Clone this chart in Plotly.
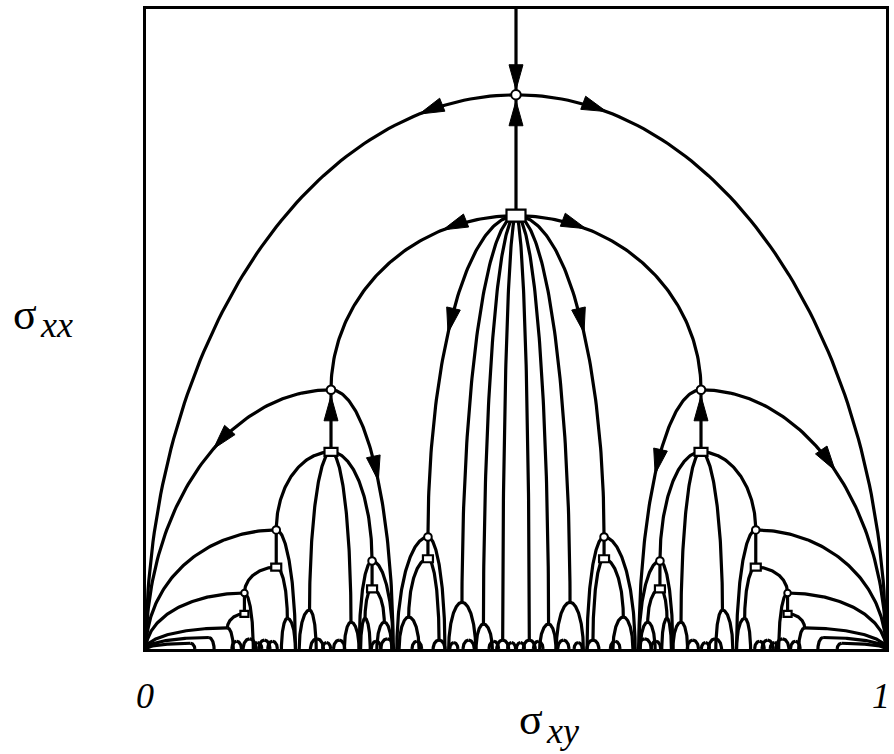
import numpy as np
import plotly.graph_objects as go

# Flow diagram in the (sigma_xy, sigma_xx) plane.
# Left half of the fixed-point tree (sigma_xy <= 1/2); the right half is its mirror image.
# Each unit: a saddle (circle) whose two flow lines run down to attractors on the
# sigma_xy axis, an optional box below it, and a parent whose box feeds the saddle.
unit_x      = [0.500, 0.250, 0.381, 0.427, 0.456, 0.482, 0.176, 0.221, 0.277, 0.3055,
               0.133, 0.191, 0.110, 0.296, 0.322, 0.355, 0.396, 0.085, 0.060]
unit_circle = [0.866, 0.405, 0.175, 0.073, 0.039, 0.014, 0.186, 0.061, 0.042, 0.1375,
               0.0875, 0.048, 0.033, 0.048, 0.042, 0.050, 0.014, 0.018, 0.009]
unit_box    = [0.677, 0.308, 0.141, None, None, None, 0.128, None, None, 0.094,
               0.055, None, None, None, None, None, None, None, None]
unit_left   = [0.000, 0.000, 0.339, 0.409, 0.446, 0.474, 0.000, 0.207, 0.268, 0.288,
               0.000, 0.183, 0.000, 0.290, 0.312, 0.342, 0.388, 0.000, 0.000]
unit_right  = [1.000, 0.334, 0.404, 0.4455, 0.468, 0.490, 0.202, 0.230, 0.288, 0.334,
               0.145, 0.202, 0.118, 0.303, 0.332, 0.369, 0.404, 0.092, 0.066]
unit_parent = [None, 0, 0, 0, 0, 0, 1, 1, 1, 1,
               6, 6, 10, 9, 9, 2, 2, None, None]

# small arches along the sigma_xy axis (left half): position and height
tiny_x = [0.1225, 0.140, 0.151, 0.160, 0.171, 0.231, 0.244, 0.261, 0.311,
          0.326, 0.366, 0.416, 0.436, 0.470, 0.494]
tiny_h = [0.012, 0.016, 0.010, 0.014, 0.012, 0.016, 0.010, 0.014, 0.012,
          0.016, 0.012, 0.010, 0.014, 0.012, 0.010]

# ---------------- page geometry ----------------
W, H = 894, 754
ML, MR, MT, MB = 146, 5, 9, 105
PW = W - ML - MR
PH = H - MT - MB

# marker styles per left-half unit index
circle_r = {0: 4.8, 1: 4.3, 2: 3.8, 6: 3.8, 9: 3.8, 10: 3.3}
box_wh = {0: (19, 12), 1: (13, 8), 2: (10, 7), 6: (10, 7), 9: (10, 7), 10: (8, 6)}

# ---------------- mirror to the full tree ----------------
n_left = len(unit_x)
ux, uc, ub, ul, ur, up, src = [], [], [], [], [], [], []
for i in range(n_left):
    ux.append(unit_x[i]); uc.append(unit_circle[i]); ub.append(unit_box[i])
    ul.append(unit_left[i]); ur.append(unit_right[i]); up.append(unit_parent[i]); src.append(i)
mirror_index = {0: 0}
for i in range(1, n_left):
    mirror_index[i] = len(ux)
    ux.append(1 - unit_x[i]); uc.append(unit_circle[i]); ub.append(unit_box[i])
    ul.append(1 - unit_right[i]); ur.append(1 - unit_left[i]); up.append(None); src.append(i)
for i in range(1, n_left):
    p = unit_parent[i]
    up[mirror_index[i]] = None if p is None else mirror_index[p]


def quarter(p, q, n=90):
    """Quarter ellipse: horizontal tangent at p, vertical tangent at q."""
    t = np.linspace(0, np.pi / 2, n)
    x = p[0] + (q[0] - p[0]) * np.sin(t)
    y = q[1] + (p[1] - q[1]) * np.cos(t)
    return x, y


curves = {}
# flow line entering the top saddle from above
curves["top"] = (np.array([0.5, 0.5]), np.array([1.0, unit_circle[0]]))
for k in range(len(ux)):
    c = (ux[k], uc[k])
    curves[("L", k)] = quarter(c, (ul[k], 0.0))
    curves[("R", k)] = quarter(c, (ur[k], 0.0))
    if ub[k] is not None:
        curves[("V", k)] = (np.array([ux[k], ux[k]]), np.array([ub[k], uc[k]]))
    if up[k] is not None:
        pk = up[k]
        curves[("P", k)] = quarter((ux[pk], ub[pk]), c)

# tiny arches
for j in range(len(tiny_x)):
    for xx in (tiny_x[j], 1 - tiny_x[j]):
        hw = 0.55 * tiny_h[j]
        curves[("TL", j, xx)] = quarter((xx, tiny_h[j]), (xx - hw, 0.0), 30)
        curves[("TR", j, xx)] = quarter((xx, tiny_h[j]), (xx + hw, 0.0), 30)

lx, ly = [], []
for cx, cy in curves.values():
    lx += list(cx) + [None]
    ly += list(cy) + [None]


def head(tip, direction, L=25, w=7):
    """Filled triangle (in data units) with its tip at `tip`, pointing along `direction` (pixels)."""
    tx, ty = tip[0] * PW, tip[1] * PH
    d = np.array(direction, float)
    d /= np.hypot(*d)
    n = np.array([-d[1], d[0]])
    bx, by = tx - d[0] * L, ty - d[1] * L
    pts = [(tx, ty), (bx + n[0] * w, by + n[1] * w), (bx - n[0] * w, by - n[1] * w), (tx, ty)]
    return [p[0] / PW for p in pts], [p[1] / PH for p in pts]


def head_on(key, frac, L=25, w=7):
    cx, cy = curves[key]
    i = int(round(frac * (len(cx) - 1)))
    i = min(max(i, 1), len(cx) - 2)
    d = ((cx[i + 1] - cx[i - 1]) * PW, (cy[i + 1] - cy[i - 1]) * PH)
    return head((cx[i], cy[i]), d, L, w)


R0 = mirror_index[1]
arrows = [
    head((0.5, unit_circle[0] + 5 / PH), (0, -1)),
    head((0.5, unit_circle[0] - 6 / PH), (0, 1)),
    head_on(("L", 0), 0.165),
    head_on(("R", 0), 0.16),
    head_on(("P", 1), 0.26),
    head_on(("P", R0), 0.245),
    head_on(("P", 2), 0.56),
    head_on(("P", mirror_index[2]), 0.56),
    head_on(("L", 1), 0.435),
    head_on(("R", 1), 0.548),
    head_on(("L", R0), 0.525),
    head_on(("R", R0), 0.512),
    head((unit_x[1], unit_circle[1] - 6 / PH), (0, 1)),
    head((1 - unit_x[1], unit_circle[1] - 6 / PH), (0, 1)),
]
axx, axy = [], []
for hx, hy in arrows:
    axx += hx + [None]
    axy += hy + [None]

fig = go.Figure()
fig.add_trace(go.Scatter(x=lx, y=ly, mode="lines",
                         line=dict(color="black", width=3.2), hoverinfo="skip"))
fig.add_trace(go.Scatter(x=axx, y=axy, mode="lines", fill="toself", fillcolor="black",
                         line=dict(color="black", width=1), hoverinfo="skip"))

shapes = []
for k in range(len(ux)):
    s = src[k]
    if s in box_wh and ub[k] is not None:
        bw, bh = box_wh[s]
        shapes.append(dict(type="rect", xref="x", yref="y", xsizemode="pixel", ysizemode="pixel",
                           xanchor=ux[k], yanchor=ub[k], x0=-bw / 2, x1=bw / 2, y0=-bh / 2, y1=bh / 2,
                           fillcolor="white", line=dict(color="black", width=2.2)))
    if s in circle_r:
        r = circle_r[s]
        shapes.append(dict(type="circle", xref="x", yref="y", xsizemode="pixel", ysizemode="pixel",
                           xanchor=ux[k], yanchor=uc[k], x0=-r, x1=r, y0=-r, y1=r,
                           fillcolor="white", line=dict(color="black", width=2)))

serif = "Liberation Serif, Times New Roman, serif"
ann = [
    dict(text="σ", x=-0.163, y=0.522, size=44),
    dict(text="<i>xx</i>", x=-0.121, y=0.507, size=36),
    dict(text="σ", x=0.520, y=-0.110, size=44),
    dict(text="<i>xy</i>", x=0.563, y=-0.128, size=36),
    dict(text="<i>0</i>", x=-0.001, y=-0.073, size=36),
    dict(text="<i>1</i>", x=0.993, y=-0.073, size=36),
]
annotations = []
for a in ann:
    annotations.append(dict(text=a["text"], x=a["x"], y=a["y"], xref="paper", yref="paper",
                            showarrow=False, xanchor="center", yanchor="middle",
                            font=dict(family=serif, color="black", size=a["size"])))

fig.update_layout(
    width=W, height=H, margin=dict(l=ML, r=MR, t=MT, b=MB),
    paper_bgcolor="white", plot_bgcolor="white", showlegend=False,
    shapes=shapes, annotations=annotations,
    xaxis=dict(range=[0, 1], showgrid=False, zeroline=False, showticklabels=False, ticks="",
               showline=True, mirror=True, linecolor="black", linewidth=3),
    yaxis=dict(range=[0, 1], showgrid=False, zeroline=False, showticklabels=False, ticks="",
               showline=True, mirror=True, linecolor="black", linewidth=3),
)
fig.write_html("out.html")
